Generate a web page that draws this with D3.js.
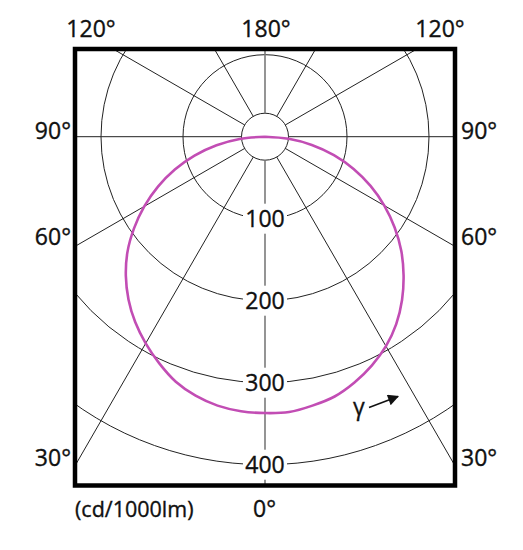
<!DOCTYPE html>
<html>
<head>
<meta charset="utf-8">
<script src="https://cdn.jsdelivr.net/npm/d3@7"></script>
<style>
  body { margin: 0; background: #fff; }
  text { font-family: "Open Sans", Lato, sans-serif; fill: #111; stroke: #111; stroke-width: 0.35px; }
</style>
</head>
<body>
<div id="chart"></div>
<script>
// chart size
var width = 523;
var height = 550;

// angles (degrees from straight down) and intensities (cd/1000lm)
var angles = [0, 5, 10, 15, 20, 25, 30, 35, 40, 45, 50, 55, 60, 65, 70, 75, 80, 85, 90];
var leftValues = [337, 336, 333, 327, 318, 305, 291, 276, 259, 240, 219, 195, 170, 144, 117, 89, 60, 31, 0];
var rightValues = [337, 337, 333, 328, 319, 308, 295, 279, 260, 239, 217, 193, 168, 142, 115, 87, 58, 29, 0];

// grid
var ringValues = [100, 200, 300, 400];
var spokeAngles = [0, 30, 60, 90, 120, 150, 180, 210, 240, 270, 300, 330];

// frame labels
var leftLabels = [{ t: "90°", y: 139 }, { t: "60°", y: 245 }, { t: "30°", y: 466 }];
var topLabels = [{ t: "120°", x: 91 }, { t: "180°", x: 266 }, { t: "120°", x: 440 }];

var cx = 265, cy = 136.7;
var frame = { x: 75, y: 49, w: 380, h: 436.5 };
var fs = 23;

var svg = d3.select("#chart")
  .append("svg")
  .attr("width", width)
  .attr("height", height);

var defs = svg.append("defs");
defs.append("clipPath")
  .attr("id", "clip")
  .append("rect")
  .attr("x", frame.x).attr("y", frame.y)
  .attr("width", frame.w).attr("height", frame.h);

defs.append("marker")
  .attr("id", "arrow")
  .attr("viewBox", "0 0 10 10")
  .attr("refX", 9).attr("refY", 5)
  .attr("markerWidth", 14).attr("markerHeight", 11)
  .attr("markerUnits", "userSpaceOnUse")
  .attr("orient", "auto")
  .append("path")
  .attr("d", "M0,0L10,5L0,10Z")
  .attr("fill", "#111");

// radial scale
var r = d3.scaleLinear().domain([0, 400]).range([0, 328]);

var plot = svg.append("g").attr("clip-path", "url(#clip)");
var g = plot.append("g").attr("transform", "translate(" + cx + "," + cy + ")");

// rings
g.selectAll(".ring")
  .data(ringValues)
  .enter().append("circle")
  .attr("r", function(d) { return r(d); })
  .attr("fill", "none")
  .attr("stroke", "#222")
  .attr("stroke-width", 1);

// small centre circle
g.append("circle")
  .attr("r", 23.5)
  .attr("fill", "none")
  .attr("stroke", "#222")
  .attr("stroke-width", 1);

// spokes (angle measured from downward direction)
g.selectAll(".spoke")
  .data(spokeAngles)
  .enter().append("line")
  .attr("x1", function(d) { return 23.5 * Math.sin(d * Math.PI / 180); })
  .attr("y1", function(d) { return 23.5 * Math.cos(d * Math.PI / 180); })
  .attr("x2", function(d) { return 700 * Math.sin(d * Math.PI / 180); })
  .attr("y2", function(d) { return 700 * Math.cos(d * Math.PI / 180); })
  .attr("stroke", function(d) { return d % 180 === 0 ? "#7a7a7a" : "#222"; })
  .attr("stroke-width", function(d) { return d % 180 === 0 ? 1.6 : 1; });

// ring labels with white background
var rl = g.selectAll(".rlabel")
  .data(ringValues)
  .enter().append("g")
  .attr("transform", function(d) { return "translate(0," + r(d) + ")"; });

rl.append("rect")
  .attr("x", -22).attr("y", -15)
  .attr("width", 44).attr("height", 30)
  .attr("fill", "#fff");

rl.append("text")
  .attr("text-anchor", "middle")
  .attr("dy", "0.36em")
  .attr("font-size", fs)
  .text(function(d) { return d; });

// intensity curve
var pts = [];
for (var i = angles.length - 1; i >= 0; i--) {
  pts.push({ a: Math.PI + angles[i] * Math.PI / 180, v: leftValues[i] });
}
for (var j = 1; j < angles.length; j++) {
  pts.push({ a: Math.PI - angles[j] * Math.PI / 180, v: rightValues[j] });
}

var curve = d3.lineRadial()
  .angle(function(d) { return d.a; })
  .radius(function(d) { return r(d.v); })
  .curve(d3.curveCatmullRom);

g.append("path")
  .datum(pts)
  .attr("d", curve)
  .attr("fill", "none")
  .attr("stroke", "#c24db4")
  .attr("stroke-width", 2.6);

// gamma arrow
svg.append("text")
  .attr("x", 359).attr("y", 415)
  .attr("text-anchor", "middle")
  .attr("font-family", "Lato, sans-serif")
  .attr("font-size", fs)
  .text("γ");

svg.append("line")
  .attr("x1", 369).attr("y1", 407.5)
  .attr("x2", 398).attr("y2", 396.5)
  .attr("stroke", "#111")
  .attr("stroke-width", 1.5)
  .attr("marker-end", "url(#arrow)");

// frame
svg.append("rect")
  .attr("x", frame.x).attr("y", frame.y)
  .attr("width", frame.w).attr("height", frame.h)
  .attr("fill", "none")
  .attr("stroke", "#000")
  .attr("stroke-width", 4.5);

// angle labels
svg.selectAll(".tl")
  .data(topLabels)
  .enter().append("text")
  .attr("x", function(d) { return d.x; })
  .attr("y", 37)
  .attr("text-anchor", "middle")
  .attr("font-size", fs)
  .text(function(d) { return d.t; });

svg.selectAll(".ll")
  .data(leftLabels)
  .enter().append("text")
  .attr("x", 71)
  .attr("y", function(d) { return d.y; })
  .attr("text-anchor", "end")
  .attr("font-size", fs)
  .text(function(d) { return d.t; });

svg.selectAll(".rl")
  .data(leftLabels)
  .enter().append("text")
  .attr("x", 461)
  .attr("y", function(d) { return d.y; })
  .attr("text-anchor", "start")
  .attr("font-size", fs)
  .text(function(d) { return d.t; });

svg.append("text")
  .attr("x", 75).attr("y", 517)
  .attr("font-size", 21.5)
  .text("(cd/1000lm)");

svg.append("text")
  .attr("x", 253).attr("y", 517)
  .attr("font-size", fs)
  .text("0°");
</script>
</body>
</html>
